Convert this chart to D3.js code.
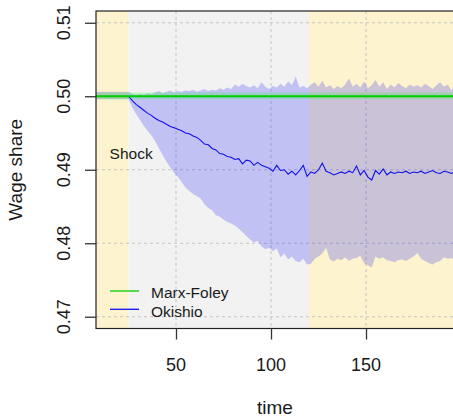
<!DOCTYPE html>
<html><head><meta charset="utf-8">
<script src="https://cdn.jsdelivr.net/npm/d3@7"></script>
<style>html,body{margin:0;padding:0;background:#fff;overflow:hidden}text{font-family:"Liberation Sans",Arial,sans-serif;fill:#1a1a1a}</style>
</head><body><svg id="c" width="453" height="418"></svg>
<script>
// ---- data ----
const xLimits = [7.9, 196.3];
const yLimits = [0.4684, 0.5116];
const xTicks = [50, 100, 150];
const yTicks = [0.47, 0.48, 0.49, 0.50, 0.51];
const phaseBounds = [25, 120];
const shockTime = 25;
const time = d3.range(1, 200, 2);
const okiMean = [
 0.5000,0.5000,0.5000,0.5000,0.5000,0.5000,0.5000,0.5000,0.5000,0.5000,0.5000,0.5000,0.5000,
 0.4994,0.4989,0.4985,0.4981,0.4977,0.4974,0.4970,0.4967,0.4965,0.4962,
 0.4959,0.4957,0.4955,0.4953,0.4950,0.4949,0.4946,0.4944,0.4940,0.4935,
 0.4934,0.4929,0.4927,0.4922,0.4921,0.4918,0.4917,0.4914,0.4915,0.4908,
 0.4913,0.4912,0.4906,0.4910,0.4906,0.4904,0.4902,0.4898,0.4906,0.4899,
 0.4900,0.4894,0.4898,0.4893,0.4899,0.4906,0.4891,0.4897,0.4895,0.4900,
 0.4909,0.4898,0.4896,0.4893,0.4895,0.4897,0.4895,0.4898,0.4896,0.4905,
 0.4893,0.4899,0.4890,0.4886,0.4899,0.4894,0.4901,0.4893,0.4897,0.4895,
 0.4897,0.4896,0.4898,0.4895,0.4897,0.4896,0.4898,0.4895,0.4897,0.4899,
 0.4896,0.4895,0.4898,0.4897,0.4895,0.4898,0.4896];
const okiUpper = [
 0.5006,0.5006,0.5006,0.5006,0.5006,0.5006,0.5006,0.5006,0.5006,0.5006,0.5006,0.5006,0.5006,
 0.5003,0.5002,0.5003,0.5002,0.5004,0.5003,0.5005,0.5007,0.5004,0.5006,
 0.5008,0.5005,0.5007,0.5006,0.5008,0.5007,0.5009,0.5006,0.5008,0.5010,
 0.5007,0.5009,0.5008,0.5011,0.5009,0.5012,0.5010,0.5016,0.5013,0.5017,
 0.5014,0.5012,0.5015,0.5011,0.5019,0.5013,0.5010,0.5014,0.5012,0.5017,
 0.5013,0.5020,0.5015,0.5027,0.5012,0.5014,0.5011,0.5016,0.5019,0.5013,
 0.5021,0.5012,0.5015,0.5010,0.5014,0.5011,0.5016,0.5024,0.5013,0.5017,
 0.5012,0.5020,0.5011,0.5015,0.5022,0.5013,0.5019,0.5010,0.5016,0.5012,
 0.5018,0.5014,0.5011,0.5016,0.5013,0.5015,0.5012,0.5017,0.5014,0.5010,
 0.5015,0.5019,0.5013,0.5016,0.5008,0.5021,0.5014];
const okiLower = [
 0.4996,0.4996,0.4996,0.4996,0.4996,0.4996,0.4996,0.4996,0.4996,0.4996,0.4996,0.4996,0.4996,
 0.4985,0.4976,0.4968,0.4960,0.4953,0.4947,0.4939,0.4929,0.4920,0.4911,
 0.4903,0.4896,0.4890,0.4883,0.4876,0.4871,0.4867,0.4864,0.4861,0.4853,
 0.4848,0.4845,0.4838,0.4836,0.4832,0.4829,0.4827,0.4824,0.4820,0.4815,
 0.4810,0.4805,0.4801,0.4803,0.4796,0.4792,0.4794,0.4789,0.4793,0.4781,
 0.4786,0.4778,0.4782,0.4776,0.4774,0.4779,0.4771,0.4772,0.4779,0.4782,
 0.4786,0.4794,0.4778,0.4775,0.4779,0.4777,0.4781,0.4776,0.4779,0.4780,
 0.4783,0.4773,0.4770,0.4767,0.4782,0.4779,0.4781,0.4777,0.4776,0.4774,
 0.4777,0.4778,0.4776,0.4779,0.4782,0.4787,0.4779,0.4776,0.4773,0.4771,
 0.4774,0.4776,0.4781,0.4779,0.4780,0.4777,0.4778];
const mfTime = [1, 199];
const mfMean = [0.5000, 0.5000];
const mfUpper = [0.5005, 0.5005];
const mfLower = [0.4996, 0.4996];
const seriesNames = ["Marx-Foley", "Okishio"];
const shockLabel = {t: 26.4, v: 0.4915, text: "Shock"};

// ---- drawing ----
const svg = d3.select("#c");
const plot = {left: 96, top: 11, right: 454, bottom: 328.5};
const x = d3.scaleLinear().domain(xLimits).range([plot.left, plot.right]);
const y = d3.scaleLinear().domain(yLimits).range([plot.bottom, plot.top]);

svg.append("defs").append("clipPath").attr("id", "clip")
  .append("rect").attr("x", plot.left).attr("y", plot.top)
  .attr("width", plot.right - plot.left).attr("height", plot.bottom - plot.top);

const g = svg.append("g").attr("clip-path", "url(#clip)");

// phase backgrounds
const edges = [xLimits[0], ...phaseBounds, xLimits[1]];
const phaseColors = ["#fdf3ce", "#f2f2f2", "#fdf3ce"];
g.selectAll("rect.bg").data(d3.pairs(edges)).join("rect")
  .attr("x", d => x(d[0])).attr("width", d => x(d[1]) - x(d[0]))
  .attr("y", plot.top).attr("height", plot.bottom - plot.top)
  .attr("fill", (d, i) => phaseColors[i]);

// grid
g.selectAll("line.gx").data(xTicks).join("line")
  .attr("x1", d => x(d)).attr("x2", d => x(d))
  .attr("y1", plot.top).attr("y2", plot.bottom)
  .attr("stroke", "#c4c4c4").attr("stroke-dasharray", "3,3");
g.selectAll("line.gy").data(yTicks).join("line")
  .attr("y1", d => y(d)).attr("y2", d => y(d))
  .attr("x1", plot.left).attr("x2", plot.right)
  .attr("stroke", "#c4c4c4").attr("stroke-dasharray", "3,3");

// bands
const okiRows = time.map((t, i) => ({t, m: okiMean[i], lo: okiLower[i], hi: okiUpper[i]}));
const mfRows = mfTime.map((t, i) => ({t, m: mfMean[i], lo: mfLower[i], hi: mfUpper[i]}));
const band = d3.area().x(d => x(d.t)).y0(d => y(d.lo)).y1(d => y(d.hi));
g.append("path").datum(okiRows).attr("d", band).attr("fill", "rgba(0,0,255,0.2)");
g.append("path").datum(mfRows).attr("d", band).attr("fill", "rgba(0,255,0,0.2)");

// lines
const line = d3.line().x(d => x(d.t)).y(d => y(d.m));
g.append("path").datum(okiRows.filter(d => d.t >= shockTime)).attr("d", line)
  .attr("fill", "none").attr("stroke", "#1010e8").attr("stroke-width", 1.1);
g.append("path").datum(mfRows).attr("d", line)
  .attr("fill", "none").attr("stroke", "#00cd00").attr("stroke-width", 2);

// shock label
svg.append("text").attr("x", x(shockLabel.t)).attr("y", y(shockLabel.v))
  .attr("text-anchor", "middle").attr("font-size", "15.5px").text(shockLabel.text);

// legend
const legColors = ["#00cd00", "#1010e8"];
const leg = svg.append("g");
seriesNames.forEach((name, i) => {
  const ly = 291 + i * 18.3;
  leg.append("line").attr("x1", 110).attr("x2", 139).attr("y1", ly).attr("y2", ly)
    .attr("stroke", legColors[i]).attr("stroke-width", 1.3);
  leg.append("text").attr("x", 151).attr("y", ly + 7.3).attr("font-size", "15.5px").text(name);
});

// frame
svg.append("rect").attr("x", plot.left).attr("y", plot.top)
  .attr("width", plot.right - plot.left).attr("height", plot.bottom - plot.top)
  .attr("fill", "none").attr("stroke", "#222").attr("stroke-width", 1.2);

// axes
const ay = svg.append("g").attr("transform", `translate(${plot.left},0)`)
  .call(d3.axisLeft(y).tickValues(yTicks).tickSize(11).tickSizeOuter(0).tickFormat(""));
const ax = svg.append("g").attr("transform", `translate(0,${plot.bottom})`)
  .call(d3.axisBottom(x).tickValues(xTicks).tickSize(11).tickSizeOuter(0).tickFormat(""));
[ay, ax].forEach(a => { a.select(".domain").remove(); a.selectAll("line").attr("stroke", "#333").attr("stroke-width", 1.3); });

svg.selectAll("text.yl").data(yTicks).join("text")
  .attr("transform", d => `translate(70,${y(d)}) rotate(-90)`)
  .attr("text-anchor", "middle").attr("font-size", "18px").text(d => d3.format(".2f")(d));
svg.selectAll("text.xl").data(xTicks).join("text")
  .attr("x", d => x(d)).attr("y", 370.5)
  .attr("text-anchor", "middle").attr("font-size", "18px").text(d => d);

// titles
svg.append("text").attr("x", (plot.left + plot.right) / 2).attr("y", 414)
  .attr("text-anchor", "middle").attr("font-size", "19px").text("time");
svg.append("text").attr("transform", `translate(22,${(plot.top + plot.bottom) / 2}) rotate(-90)`)
  .attr("text-anchor", "middle").attr("font-size", "19px").text("Wage share");
</script></body></html>
